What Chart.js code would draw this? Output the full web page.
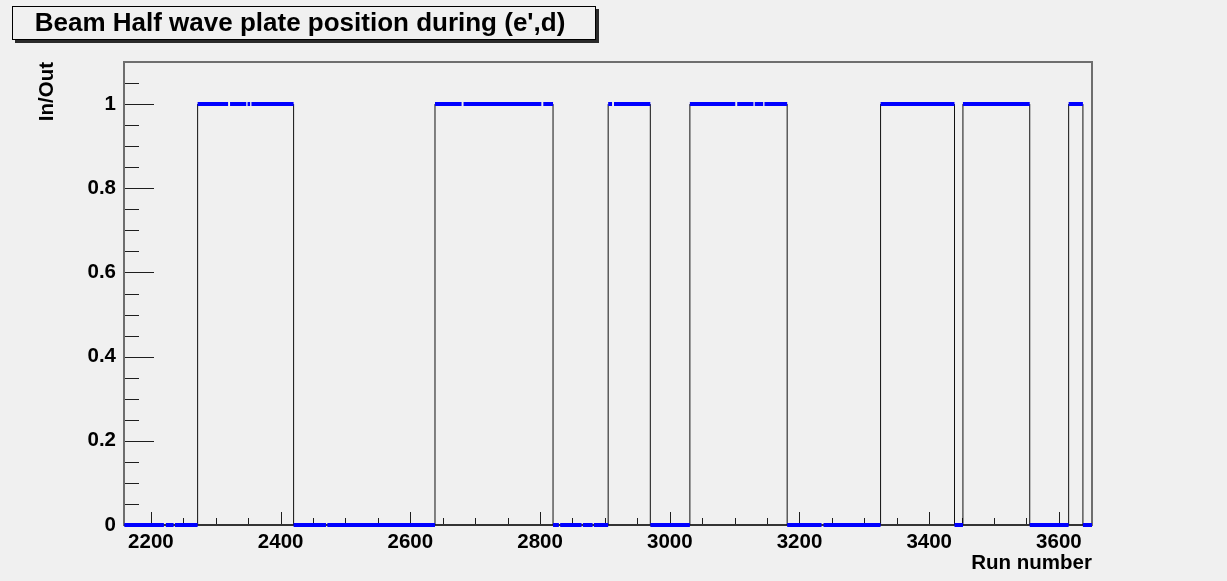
<!DOCTYPE html>
<html>
<head>
<meta charset="utf-8">
<title>Beam Half wave plate position</title>
<script src="https://cdn.jsdelivr.net/npm/chart.js@4.4.1/dist/chart.umd.min.js"></script>
<style>
  html, body { margin: 0; padding: 0; background: #f0f0f0; }
  #wrap { width: 1227px; height: 581px; }
</style>
</head>
<body>
<div id="wrap"><canvas id="myChart" width="1227" height="581"></canvas></div>
<script>
// plate OUT (0) run ranges, gaps are runs without an entry
const outRuns = [
    [2159, 2220], [2223, 2235], [2237, 2272],
    [2420, 2470], [2472, 2638],
    [2820, 2829], [2831, 2864], [2866, 2881], [2883, 2905],
    [2970, 3031],
    [3181, 3234], [3237, 3325],
    [3439, 3452],
    [3555, 3615],
    [3637, 3651]
];

// plate IN (1) run ranges
const inRuns = [
    [2272, 2319], [2322, 2347], [2349, 2353], [2355, 2420],
    [2638, 2679], [2682, 2802], [2805, 2820],
    [2905, 2911], [2914, 2970],
    [3031, 3101], [3104, 3129], [3131, 3144], [3146, 3181],
    [3325, 3439],
    [3452, 3555],
    [3615, 3637]
];

// runs where the plate was flipped
const flipRuns = [2272, 2420, 2638, 2820, 2905, 2970, 3031, 3181, 3325, 3439, 3452, 3555, 3615, 3637];

const xTicks = [2200, 2400, 2600, 2800, 3000, 3200, 3400, 3600];
const yTicks = [0, 0.2, 0.4, 0.6, 0.8, 1];
const yTickLabels = ['0', '0.2', '0.4', '0.6', '0.8', '1'];

const titleText = "Beam Half wave plate position during (e',d)";

function segmentPoints(ranges, level) {
    const pts = [];
    ranges.forEach(function(r) {
        pts.push({x: r[0], y: level}, {x: r[1], y: level}, {x: r[1], y: null});
    });
    return pts;
}

const flipPoints = [];
flipRuns.forEach(function(run) {
    flipPoints.push({x: run, y: 0}, {x: run, y: 1}, {x: run, y: null});
});

Chart.defaults.font.family = "'Liberation Sans', Arial, sans-serif";
const boldFont = {size: 20.5, weight: 'bold'};

// ROOT style frame: inner tick marks, box and the title pave
const rootFrame = {
    id: 'rootFrame',
    beforeDatasetsDraw(chart) {
        const ctx = chart.ctx;
        const a = chart.chartArea;
        const x = chart.scales.x;
        const y = chart.scales.y;
        ctx.save();
        ctx.strokeStyle = '#1e1e1e';
        ctx.lineWidth = 1;
        ctx.beginPath();
        for (let v = 2200; v <= 3650; v += 50) {
            const px = Math.round(x.getPixelForValue(v)) + 0.5;
            const len = v % 200 === 0 ? 13 : 7;
            ctx.moveTo(px, a.bottom);
            ctx.lineTo(px, a.bottom - len);
        }
        for (let i = 1; i <= 21; i++) {
            const py = Math.round(y.getPixelForValue(i * 0.05)) + 0.5;
            const len = i % 4 === 0 ? 30 : 15;
            ctx.moveTo(a.left, py);
            ctx.lineTo(a.left + len, py);
        }
        ctx.stroke();
        ctx.strokeStyle = '#6e6e6e';
        ctx.lineWidth = 2;
        ctx.strokeRect(a.left, a.top, a.right - a.left, a.bottom - a.top);
        ctx.strokeStyle = '#333';
        ctx.beginPath();
        ctx.moveTo(a.left, a.bottom);
        ctx.lineTo(a.right, a.bottom);
        ctx.stroke();
        ctx.restore();
    },
    afterDraw(chart) {
        const ctx = chart.ctx;
        ctx.save();
        ctx.fillStyle = '#2a2a2a';
        ctx.fillRect(15, 9, 584, 34);
        ctx.fillStyle = '#f0f0f0';
        ctx.fillRect(12, 6, 584, 34);
        ctx.strokeStyle = '#000';
        ctx.lineWidth = 1;
        ctx.strokeRect(12.5, 6.5, 583, 33);
        ctx.fillStyle = '#000';
        ctx.font = "bold 26px 'Liberation Sans', Arial, sans-serif";
        ctx.textAlign = 'center';
        ctx.textBaseline = 'middle';
        ctx.fillText(titleText, 300, 24);
        ctx.restore();
    }
};

const data = {
    datasets: [{
        label: 'position',
        data: segmentPoints(outRuns, 0).concat(segmentPoints(inRuns, 1)),
        borderColor: '#0000ff',
        borderWidth: 4,
        borderCapStyle: 'butt',
        pointRadius: 0,
        spanGaps: false,
        clip: false
    }, {
        label: 'flip',
        data: flipPoints,
        borderColor: '#111111',
        borderWidth: 1,
        pointRadius: 0,
        spanGaps: false
    }]
};

const config = {
    type: 'line',
    data,
    options: {
        responsive: false,
        animation: false,
        events: [],
        layout: {padding: {left: 0, right: 135, top: 62, bottom: 0}},
        plugins: {legend: {display: false}, tooltip: {enabled: false}},
        scales: {
            x: {
                type: 'linear',
                min: 2158.5,
                max: 3651,
                grid: {display: false, drawTicks: false},
                border: {display: false},
                afterBuildTicks: function(s) { s.ticks = xTicks.map(v => ({value: v})); },
                afterFit: function(s) { s.height = 56; },
                ticks: {color: '#000', font: boldFont, padding: 5, autoSkip: false, maxRotation: 0,
                    callback: v => String(v)},
                title: {display: true, text: 'Run number', align: 'end', color: '#000', font: boldFont,
                    padding: {top: 0, bottom: 5}}
            },
            y: {
                type: 'linear',
                min: 0,
                max: 1.1,
                grid: {display: false, drawTicks: false},
                border: {display: false},
                afterBuildTicks: function(s) { s.ticks = yTicks.map(v => ({value: v})); },
                afterFit: function(s) { s.width = 124; },
                ticks: {color: '#000', font: boldFont, padding: 8, autoSkip: false,
                    callback: (v, i) => yTickLabels[i]},
                title: {display: true, text: 'In/Out', align: 'end', color: '#000', font: boldFont,
                    padding: {top: 35, bottom: 0}}
            }
        }
    },
    plugins: [rootFrame]
};

const myChart = new Chart(document.getElementById('myChart'), config);
</script>
</body>
</html>
